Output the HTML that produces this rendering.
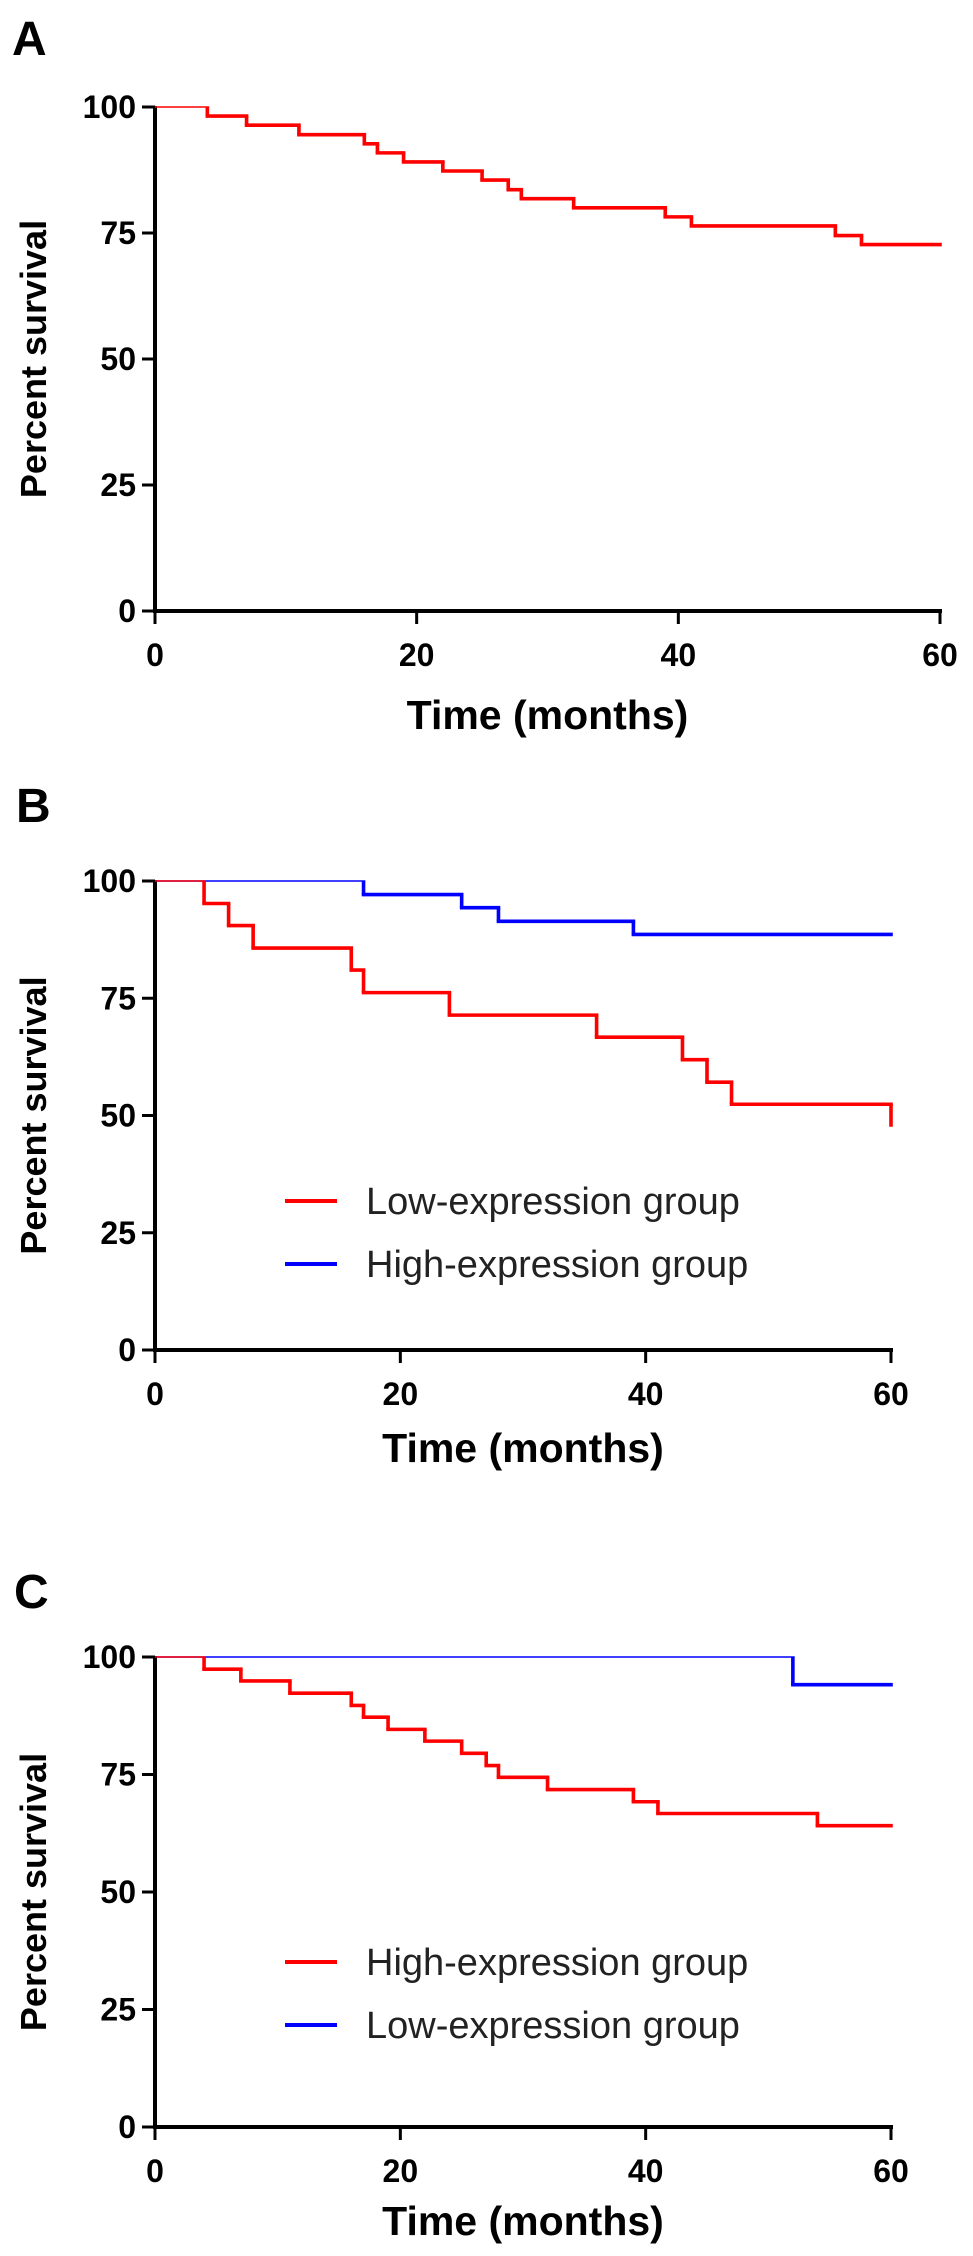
<!DOCTYPE html>
<html><head><meta charset="utf-8"><style>
html,body{margin:0;padding:0;background:#fff;}
svg{display:block;}
text{font-family:"Liberation Sans",Arial,sans-serif;}
</style></head><body>
<svg id="fig" width="973" height="2256" viewBox="0 0 973 2256" xmlns="http://www.w3.org/2000/svg"></svg>
<script>
// Panel A data
const aTimes = [0,4,7,11,16,17,19,22,25,27,28,32,39,41,52,54,60];
const aSurv  = [100,98.2,96.4,94.5,92.7,90.9,89.1,87.3,85.5,83.6,81.8,80.0,78.2,76.4,74.5,72.7,72.7];
// Panel B data
const bLowTimes  = [0,4,6,8,16,17,24,36,43,45,47,60];
const bLowSurv   = [100,95.2,90.5,85.7,81.0,76.2,71.4,66.7,61.9,57.1,52.4,47.6];
const bHighTimes = [0,17,25,28,39,60];
const bHighSurv  = [100,97.1,94.3,91.4,88.6,88.6];
// Panel C data
const cHighTimes = [0,4,7,11,16,17,19,22,25,27,28,32,39,41,54,60];
const cHighSurv  = [100,97.4,94.9,92.3,89.7,87.2,84.6,82.1,79.5,76.9,74.4,71.8,69.2,66.7,64.1,64.1];
const cLowTimes  = [0,52,60];
const cLowSurv   = [100,94.1,94.1];
// tick labels
const xTicks = [0,20,40,60];
const yTicks = [0,25,50,75,100];

const NS = "http://www.w3.org/2000/svg";
const svg = document.getElementById('fig');
function mk(tag, attrs, parent){
  const e = document.createElementNS(NS, tag);
  for (const k in attrs) e.setAttribute(k, attrs[k]);
  (parent||svg).appendChild(e);
  return e;
}

function panel(cfg){
  const g = mk('g', {});
  
  
  const X = t => cfg.x0 + (cfg.x1 - cfg.x0) * t / 60;
  const Y = v => cfg.y0 + (cfg.y100 - cfg.y0) * v / 100;

  const lbl = mk('text', {x: cfg.lx, y: cfg.ly, 'font-size': 48, 'font-weight': 'bold', fill: '#000'}, g);
  lbl.textContent = cfg.id.toUpperCase();
  
  

  const ya = mk('line', {x1: X(0), y1: Y(100)-1, x2: X(0), y2: Y(0)+2, stroke: '#000', 'stroke-width': 4}, g);
  
  
  const xa = mk('line', {x1: X(0)-2, y1: Y(0), x2: X(60)+2, y2: Y(0), stroke: '#000', 'stroke-width': 4}, g);
  
  

  yTicks.forEach(v => {
    mk('line', {x1: X(0)-13, y1: Y(v), x2: X(0), y2: Y(v), stroke: '#000', 'stroke-width': 3}, g);
    const t = mk('text', {x: X(0)-19, y: Y(v)+11, 'font-size': 32, 'font-weight': 'bold', 'text-anchor': 'end', fill: '#000'}, g);
    t.textContent = v;
    
    
  });
  xTicks.forEach(v => {
    mk('line', {x1: X(v), y1: Y(0), x2: X(v), y2: Y(0)+13, stroke: '#000', 'stroke-width': 3}, g);
    const t = mk('text', {x: X(v), y: Y(0)+55, 'font-size': 32, 'font-weight': 'bold', 'text-anchor': 'middle', fill: '#000'}, g);
    t.textContent = v;
    
    
  });

  const xt = mk('text', {x: (X(0)+X(60))/2, y: Y(0)+cfg.xtOff, 'font-size': 41, 'font-weight': 'bold', 'text-anchor': 'middle', fill: '#000'}, g);
  xt.textContent = 'Time (months)';
  
  
  const cy = (Y(0)+Y(100))/2;
  const yt = mk('text', {x: 0, y: 0, 'font-size': 36, 'font-weight': 'bold', 'text-anchor': 'middle', fill: '#000',
    transform: 'translate(' + (cfg.ytx) + ',' + cy + ') rotate(-90)'}, g);
  yt.textContent = 'Percent survival';
  
  

  cfg.series.forEach(s => {
    const sg = mk('g', {}, g);
    
    
    for (let i = 0; i < s.t.length - 1; i++) {
      const w = s.v[i] >= 100 ? 1.6 : 3.6;
      mk('line', {x1: X(s.t[i]) - (i>0?1.8:0), y1: Y(s.v[i]), x2: X(s.t[i+1]) + 1.8, y2: Y(s.v[i]), stroke: s.color, 'stroke-width': w}, sg);
      if (s.v[i+1] !== s.v[i]) {
        mk('line', {x1: X(s.t[i+1]), y1: Y(s.v[i]), x2: X(s.t[i+1]), y2: Y(s.v[i+1]), stroke: s.color, 'stroke-width': 3.6}, sg);
      }
    }
  });

  if (cfg.legend) {
    cfg.legend.forEach((L, i) => {
      const lg = mk('g', {}, g);
      
      
      const ly = cfg.legY + i * 63;
      mk('line', {x1: 285, y1: ly, x2: 337, y2: ly, stroke: L.color, 'stroke-width': 4}, lg);
      const t = mk('text', {x: 366, y: ly + 13, 'font-size': 38, fill: '#222'}, lg);
      t.textContent = L.label;
    });
  }
}

panel({id:'a', x0:155, x1:940, y0:611, y100:107, lx:12, ly:55, xtOff:118, ytx:46,
  series:[{name:'survival-curve', t:aTimes, v:aSurv, color:'#ff0000'}]});
panel({id:'b', x0:155, x1:891, y0:1350, y100:881, lx:16, ly:822, xtOff:112, ytx:46,
  series:[{name:'high-expression-curve', t:bHighTimes, v:bHighSurv, color:'#0000ff'},
          {name:'low-expression-curve', t:bLowTimes, v:bLowSurv, color:'#ff0000'}],
  legend:[{label:'Low-expression group', color:'#ff0000'},{label:'High-expression group', color:'#0000ff'}], legY:1201});
panel({id:'c', x0:155, x1:891, y0:2127, y100:1657, lx:14, ly:1608, xtOff:108, ytx:46,
  series:[{name:'low-expression-curve', t:cLowTimes, v:cLowSurv, color:'#0000ff'},
          {name:'high-expression-curve', t:cHighTimes, v:cHighSurv, color:'#ff0000'}],
  legend:[{label:'High-expression group', color:'#ff0000'},{label:'Low-expression group', color:'#0000ff'}], legY:1962});
</script>
</body></html>
